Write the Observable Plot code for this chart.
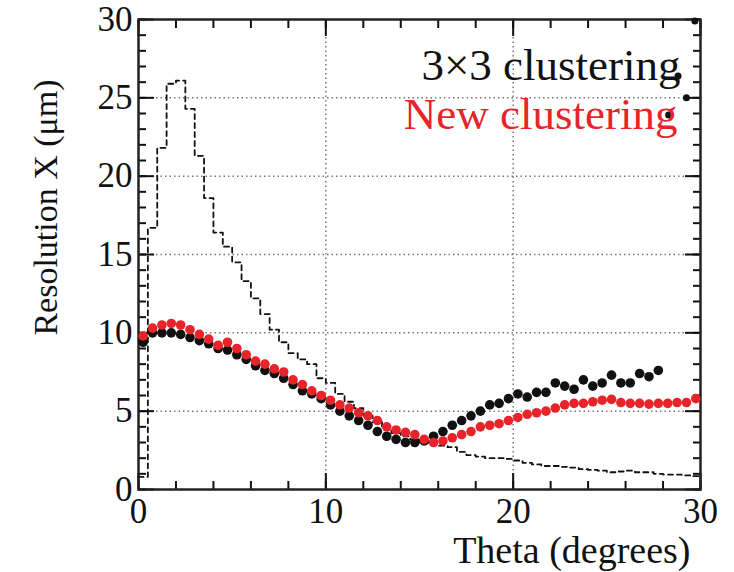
<!DOCTYPE html>
<html>
<head>
<meta charset="utf-8">
<script src="https://cdn.jsdelivr.net/npm/d3@7"></script>
<script src="https://cdn.jsdelivr.net/npm/@observablehq/plot@0.6"></script>
<style>
  html, body { margin: 0; padding: 0; background: #fff; }
  #chart { width: 734px; height: 572px; }
</style>
</head>
<body>
<div id="chart"></div>
<script>
// Bin centres (0.5 degree bins)
const thetaNew = [0.25,0.75,1.25,1.75,2.25,2.75,3.25,3.75,4.25,4.75,5.25,5.75,6.25,6.75,7.25,7.75,8.25,8.75,9.25,9.75,10.25,10.75,11.25,11.75,12.25,12.75,13.25,13.75,14.25,14.75,15.25,15.75,16.25,16.75,17.25,17.75,18.25,18.75,19.25,19.75,20.25,20.75,21.25,21.75,22.25,22.75,23.25,23.75,24.25,24.75,25.25,25.75,26.25,26.75,27.25,27.75,28.25,28.75,29.25,29.75];
const resNew = [9.8,10.3,10.5,10.6,10.5,10.2,9.9,9.6,9.2,9.4,9.0,8.6,8.2,8.0,7.7,7.5,7.0,6.7,6.3,6.0,5.7,5.4,5.2,4.9,4.7,4.4,4.0,3.8,3.65,3.5,3.2,3.0,3.1,3.3,3.5,3.7,4.0,4.1,4.2,4.4,4.6,4.8,4.9,5.0,5.2,5.4,5.5,5.5,5.6,5.7,5.75,5.55,5.5,5.5,5.45,5.5,5.5,5.55,5.55,5.8];

const theta3x3 = [0.25,0.75,1.25,1.75,2.25,2.75,3.25,3.75,4.25,4.75,5.25,5.75,6.25,6.75,7.25,7.75,8.25,8.75,9.25,9.75,10.25,10.75,11.25,11.75,12.25,12.75,13.25,13.75,14.25,14.75,15.25,15.75,16.25,16.75,17.25,17.75,18.25,18.75,19.25,19.75,20.25,20.75,21.25,21.75,22.25,22.75,23.25,23.75,24.25,24.75,25.25,25.75,26.25,26.75,27.25,27.75];
const res3x3 = [9.4,10.0,10.0,10.0,9.9,9.7,9.5,9.3,9.0,8.9,8.6,8.3,7.9,7.6,7.4,7.1,6.7,6.3,6.1,5.8,5.4,5.0,4.7,4.4,4.1,3.7,3.4,3.2,3.0,3.0,3.1,3.4,3.7,4.1,4.4,4.7,5.0,5.4,5.5,5.8,6.1,5.9,6.2,6.2,6.8,6.6,6.4,7.0,6.6,6.8,7.3,6.8,6.8,7.4,7.2,7.6];

// Dashed histogram: low bin edges and contents
const histEdges = [0,0.5,1,1.5,2,2.5,3,3.5,4,4.5,5,5.5,6,6.5,7,7.5,8,8.5,9,9.5,10,10.5,11,11.5,12,12.5,13,13.5,14,14.5,15,15.5,16,16.5,17,17.5,18,18.5,19,19.5,20,20.5,21,21.5,22,22.5,23,23.5,24,24.5,25,25.5,26,26.5,27,27.5,28,28.5,29,29.5,30];
const histValues = [0.8,16.7,21.8,25.9,26.1,24.3,21.3,18.6,16.4,15.5,14.5,13.3,12.2,11.2,10.2,9.4,8.7,8.3,8.0,7.1,6.8,6.1,5.6,5.2,4.7,4.3,3.9,3.6,3.4,3.2,3.0,2.9,2.8,2.7,2.4,2.2,2.1,2.0,2.0,1.95,1.85,1.7,1.6,1.5,1.5,1.45,1.4,1.3,1.25,1.2,1.1,1.15,1.2,1.1,1.1,1.0,0.95,0.95,0.9,0.85,0.85];

// Stray markers near the top-right corner
const strayTheta = [29.7, 28.8, 29.25, 28.3];
const strayRes = [29.9, 26.4, 25.0, 23.9];

const xMajor = [0, 10, 20, 30];
const xMinor = [0,2,4,6,8,10,12,14,16,18,20,22,24,26,28,30];
const yMajor = [0, 5, 10, 15, 20, 25, 30];
const yMinor = d3.range(0, 31, 1);
const gridXVals = [10, 20];
const gridYVals = [5, 10, 15, 20, 25];

const legendLabels = ["3×3 clustering", "New clustering"];
const legendColors = ["#111111", "#e8242a"];
const xTitle = "Theta (degrees)";
const yTitle = "Resolution X (μm)";

const newData = thetaNew.map((t, i) => ({theta: t, res: resNew[i]}));
const oldData = theta3x3.map((t, i) => ({theta: t, res: res3x3[i]}));
const histData = histEdges.map((e, i) => ({theta: e, res: histValues[i]}));
const strayData = strayTheta.map((t, i) => ({theta: t, res: strayRes[i]}));

const FONT = "'Liberation Serif', 'Times New Roman', serif";
const blank = () => "";
const tickOpts = {tickFormat: blank, strokeWidth: 2, label: null};

const chart = Plot.plot({
  width: 734,
  height: 572,
  marginLeft: 138,
  marginRight: 34,
  marginTop: 19,
  marginBottom: 83,
  style: {fontFamily: FONT, background: "#fff", color: "#111"},
  x: {domain: [0, 30]},
  y: {domain: [0, 30]},
  marks: [
    Plot.gridX(gridXVals, {stroke: "#777", strokeOpacity: 1, strokeDasharray: "1.5,3", strokeWidth: 1.5}),
    Plot.gridY(gridYVals, {stroke: "#777", strokeOpacity: 1, strokeDasharray: "1.5,3", strokeWidth: 1.5}),
    // inward ticks
    Plot.axisX({anchor: "bottom", ticks: xMinor, tickSize: -8, ...tickOpts}),
    Plot.axisX({anchor: "bottom", ticks: xMajor, tickSize: -16, ...tickOpts}),
    Plot.axisX({anchor: "top", ticks: xMinor, tickSize: -8, ...tickOpts}),
    Plot.axisX({anchor: "top", ticks: xMajor, tickSize: -16, ...tickOpts}),
    Plot.axisY({anchor: "left", ticks: yMinor, tickSize: -8, ...tickOpts}),
    Plot.axisY({anchor: "left", ticks: yMajor, tickSize: -16, ...tickOpts}),
    Plot.axisY({anchor: "right", ticks: yMinor, tickSize: -8, ...tickOpts}),
    Plot.axisY({anchor: "right", ticks: yMajor, tickSize: -16, ...tickOpts}),
    // tick labels
    Plot.axisX({anchor: "bottom", ticks: xMajor, tickSize: 0, tickPadding: 9, fontSize: 35, label: null}),
    Plot.axisY({anchor: "left", ticks: yMajor, tickSize: 0, tickPadding: 6, fontSize: 35, label: null}),
    Plot.frame({stroke: "#222", strokeWidth: 2.5}),
    // dashed histogram
    Plot.line(histData, {x: "theta", y: "res", curve: "step-after", stroke: "#111", strokeWidth: 1.8, strokeDasharray: "5,4"}),
    Plot.dot(strayData, {x: "theta", y: "res", r: 3.5, fill: "#111"}),
    Plot.dot(oldData, {x: "theta", y: "res", r: 4.8, fill: "#111"}),
    Plot.dot(newData, {x: "theta", y: "res", r: 4.8, fill: legendColors[1]}),
    // legend
    Plot.text([legendLabels[0]], {frameAnchor: "top-right", lineAnchor: "middle", dx: -20, dy: 46, textAnchor: "end", fontSize: 45, fill: legendColors[0]}),
    Plot.text([legendLabels[1]], {frameAnchor: "top-right", lineAnchor: "middle", dx: -23, dy: 95, textAnchor: "end", fontSize: 45, fill: legendColors[1]}),
    // axis titles
    Plot.text([xTitle], {frameAnchor: "bottom-right", lineAnchor: "middle", dx: -10, dy: 61, textAnchor: "end", fontSize: 38, fill: "#111"}),
    Plot.text([yTitle], {frameAnchor: "left", lineAnchor: "middle", dx: -92, dy: -47, rotate: -90, textAnchor: "middle", fontSize: 34, fill: "#111"})
  ]
});
document.getElementById("chart").appendChild(chart);
</script>
</body>
</html>
